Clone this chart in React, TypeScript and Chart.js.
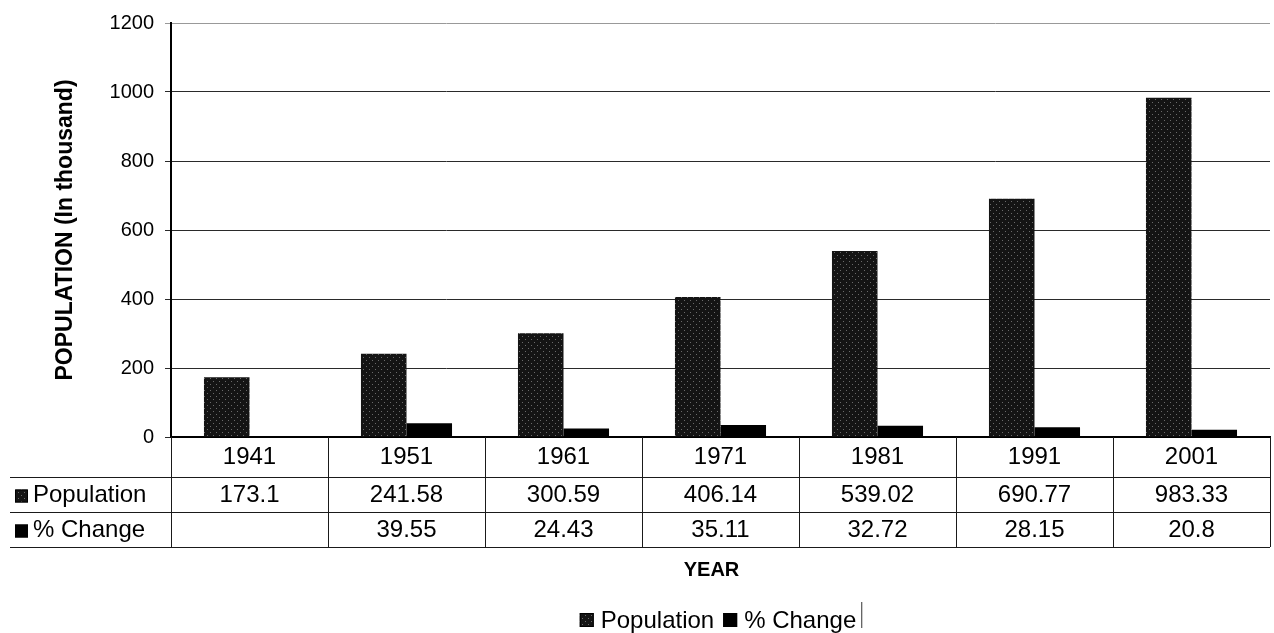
import React, { useEffect, useRef } from "react";
import { Chart, registerables } from "chart.js";

Chart.register(...registerables);

const years = ["1941", "1951", "1961", "1971", "1981", "1991", "2001"];
const population = [173.1, 241.58, 300.59, 406.14, 539.02, 690.77, 983.33];
const pctChange: (number | null)[] = [null, 39.55, 24.43, 35.11, 32.72, 28.15, 20.8];
const seriesLabels = ["Population", "% Change"];
const yMin = 0;
const yMax = 1200;
const yStep = 200;
const yTitle = "POPULATION (In thousand)";
const xTitle = "YEAR";

const FONT = "'Liberation Sans', Arial, Helvetica, sans-serif";

function makePattern(): CanvasPattern | string {
  const c = document.createElement("canvas");
  c.width = 6;
  c.height = 6;
  const g = c.getContext("2d");
  if (!g) return "#1a1a1a";
  g.fillStyle = "#141414";
  g.fillRect(0, 0, 6, 6);
  g.fillStyle = "#6a6a6a";
  g.fillRect(0, 0, 1, 1);
  g.fillRect(3, 3, 1, 1);
  return g.createPattern(c, "repeat") || "#1a1a1a";
}

const tablePlugin = {
  id: "dataTable",
  afterDraw(chart: any) {
    const { ctx, chartArea } = chart;
    const n = years.length;
    const left = chartArea.left;
    const right = chartArea.right;
    const colW = (right - left) / n;
    const top = chartArea.bottom;
    const r1 = top + 40;
    const r2 = r1 + 35;
    const r3 = r2 + 35;
    const fills = chart.data.datasets.map((d: any) => d.backgroundColor);

    ctx.save();
    ctx.strokeStyle = "#1a1a1a";
    ctx.lineWidth = 1;
    const line = (x1: number, y1: number, x2: number, y2: number) => {
      ctx.beginPath();
      ctx.moveTo(x1, y1);
      ctx.lineTo(x2, y2);
      ctx.stroke();
    };
    for (let i = 0; i <= n; i++) {
      const xx = Math.round(left + i * colW) + 0.5;
      line(xx, top, xx, r3);
    }
    line(10, r1 + 0.5, right, r1 + 0.5);
    line(10, r2 + 0.5, right, r2 + 0.5);
    line(10, r3 + 0.5, right, r3 + 0.5);

    ctx.fillStyle = "#000";
    ctx.textAlign = "center";
    ctx.textBaseline = "middle";
    ctx.font = `24px ${FONT}`;
    const rowsVals = [population, pctChange];
    for (let i = 0; i < n; i++) {
      const cx = left + (i + 0.5) * colW;
      ctx.fillText(years[i], cx, (top + r1) / 2);
      rowsVals.forEach((vals, k) => {
        const v = vals[i];
        if (v !== null && v !== undefined) {
          const cy = k === 0 ? (r1 + r2) / 2 + 1 : (r2 + r3) / 2 + 1;
          ctx.fillText(String(v), cx, cy);
        }
      });
    }

    // row labels with swatches
    ctx.textAlign = "left";
    seriesLabels.forEach((lab, k) => {
      const cy = k === 0 ? (r1 + r2) / 2 + 1 : (r2 + r3) / 2 + 1;
      ctx.fillStyle = fills[k];
      ctx.fillRect(15, cy - 6, 13, 13);
      ctx.strokeStyle = "#000";
      ctx.strokeRect(15.5, cy - 5.5, 12, 12);
      ctx.fillStyle = "#000";
      ctx.fillText(lab, 33, cy);
    });

    // x-axis title
    ctx.textAlign = "center";
    ctx.font = `bold 20px ${FONT}`;
    ctx.fillText(xTitle, (left + right) / 2 - 9, 570);

    // legend
    ctx.font = `24px ${FONT}`;
    const box = 14;
    const gap = 7;
    const itemGap = 9;
    const widths = seriesLabels.map((l) => box + gap + ctx.measureText(l).width);
    const total = widths.reduce((a, b) => a + b, 0) + itemGap * (widths.length - 1);
    let lx = 718 - total / 2;
    const ly = 620;
    ctx.textAlign = "left";
    seriesLabels.forEach((lab, k) => {
      ctx.fillStyle = fills[k];
      ctx.fillRect(lx, ly - 7, box, box);
      ctx.strokeStyle = "#000";
      ctx.strokeRect(lx + 0.5, ly - 6.5, box - 1, box - 1);
      ctx.fillStyle = "#000";
      ctx.fillText(lab, lx + box + gap, ly + 1);
      lx += widths[k] + itemGap;
    });
    ctx.strokeStyle = "#333";
    line(lx - itemGap + 5.5, ly - 18, lx - itemGap + 5.5, ly + 8);
    ctx.restore();
  },
};

export default function App() {
  const ref = useRef<HTMLCanvasElement | null>(null);

  useEffect(() => {
    if (!ref.current) return;
    Chart.defaults.font.family = FONT;
    Chart.defaults.color = "#000";
    const pattern = makePattern();
    const chart = new Chart(ref.current, {
      type: "bar",
      data: {
        labels: years,
        datasets: [
          {
            label: seriesLabels[0],
            data: population,
            backgroundColor: pattern as any,
            borderWidth: 0,
            categoryPercentage: 0.58,
            barPercentage: 1.0,
          },
          {
            label: seriesLabels[1],
            data: pctChange,
            backgroundColor: "#000",
            borderWidth: 0,
            categoryPercentage: 0.58,
            barPercentage: 1.0,
          },
        ],
      },
      options: {
        responsive: false,
        animation: false,
        layout: { padding: { top: 22, right: 4, left: 0, bottom: 0 } },
        plugins: {
          legend: { display: false },
          tooltip: { enabled: false },
        },
        scales: {
          x: {
            type: "category",
            offset: true,
            grid: { display: false },
            ticks: { display: false },
            border: { display: true, color: "#000", width: 2 },
            afterFit: (s: any) => {
              s.height = 196;
            },
          },
          y: {
            min: yMin,
            max: yMax,
            ticks: {
              stepSize: yStep,
              font: { size: 20 },
              color: "#000",
              padding: 11,
              callback: (v: any) => String(v),
            },
            grid: {
              color: (c: any) => (c.tick && c.tick.value === yMax ? "#999" : "#2a2a2a"),
              lineWidth: 1,
              tickLength: 6,
            },
            border: { display: true, color: "#000", width: 2 },
            title: {
              display: true,
              text: yTitle,
              font: { size: 23, weight: "bold" },
              color: "#000",
              padding: { top: 52, bottom: 0 },
            },
            afterFit: (s: any) => {
              s.width = 171;
            },
          },
        },
      },
      plugins: [tablePlugin],
    });
    return () => chart.destroy();
  }, []);

  return (
    <div style={{ position: "fixed", left: 0, top: 0, width: 1274, height: 633, background: "#fff" }}>
      <canvas ref={ref} width={1274} height={633} style={{ display: "block" }} />
    </div>
  );
}
